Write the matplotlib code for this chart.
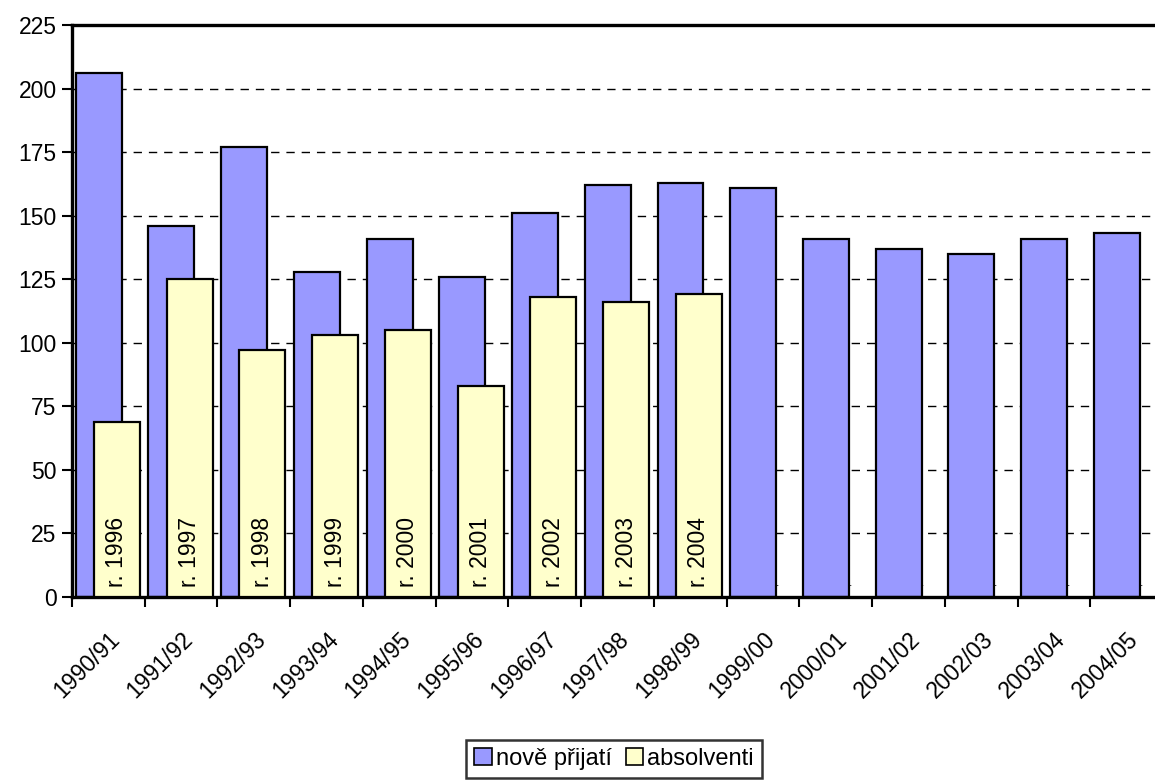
import matplotlib
matplotlib.use("Agg")
import matplotlib.pyplot as plt
import matplotlib.transforms as mtransforms
import numpy as np

plt.rcParams['font.family'] = ['Liberation Sans', 'DejaVu Sans']

# school years and counts
years = ["1990/91", "1991/92", "1992/93", "1993/94", "1994/95", "1995/96", "1996/97",
         "1997/98", "1998/99", "1999/00", "2000/01", "2001/02", "2002/03", "2003/04", "2004/05"]
prijati = [206, 146, 177, 128, 141, 126, 151, 162, 163, 161, 141, 137, 135, 141, 143]
absolventi = [69, 125, 97, 103, 105, 83, 118, 116, 119]
abs_labels = ["r. 1996", "r. 1997", "r. 1998", "r. 1999", "r. 2000",
              "r. 2001", "r. 2002", "r. 2003", "r. 2004"]

fs = 16.5
fig = plt.figure(figsize=(11.55, 7.83), dpi=100)
ax = fig.add_axes([72/1155, 1 - 597/783, 1091/1155, 572/783])

x = np.arange(len(years))
w = 0.632
ax.bar(x - 0.134, prijati, w, color="#9999FF", edgecolor="black", linewidth=1.6,
       zorder=2, label="nově přijatí")
xa = np.arange(len(absolventi))
ax.bar(xa + 0.117, absolventi, w, color="#FFFFCC", edgecolor="black", linewidth=1.6,
       zorder=3, label="absolventi")

for i in range(len(absolventi)):
    ax.text(xa[i] + 0.117, 4, abs_labels[i], rotation=90, ha="center", va="bottom",
            fontsize=fs, zorder=4)
# empty labels of missing values show only a dot
for i in range(len(absolventi), len(years)):
    ax.text(i + 0.2, 3, ".", ha="center", va="bottom", fontsize=9, zorder=4)

ax.set_ylim(0, 225)
ax.set_yticks(np.arange(0, 226, 25))
ax.set_xlim(-0.5, len(years) - 0.5)
ax.set_xticks(x)
ax.set_xticklabels(years, rotation=45, ha="right", va="top", rotation_mode="anchor",
                   fontsize=fs)
shift = mtransforms.ScaledTranslation(-6/100, 0, fig.dpi_scale_trans)
for lab in ax.get_xticklabels():
    lab.set_transform(lab.get_transform() + shift)
ax.set_xticks(np.arange(-0.5, len(years), 1), minor=True)
ax.tick_params(axis="x", which="major", length=0, pad=22)
ax.tick_params(axis="x", which="minor", length=7, width=1.5, direction="out")
ax.tick_params(axis="y", length=7, width=1.5, labelsize=fs, pad=4)

ax.yaxis.grid(True, color="black", linestyle=(0, (6, 5)), linewidth=1)
ax.set_axisbelow(True)
for s in ["left", "bottom", "top"]:
    ax.spines[s].set_linewidth(2.4)
ax.spines["right"].set_visible(False)

leg = fig.legend(loc="center", bbox_to_anchor=(614/1155, 1 - 759/783), ncol=2,
                 fontsize=fs + 0.5, frameon=True, fancybox=False, edgecolor="black",
                 handlelength=0.75, handleheight=0.75, handletextpad=0.15,
                 columnspacing=0.6, borderpad=0.35)
leg.get_frame().set_linewidth(1.8)
for h in leg.legend_handles:
    h.set_linewidth(1.2)

fig.savefig("out.png", dpi=100)
